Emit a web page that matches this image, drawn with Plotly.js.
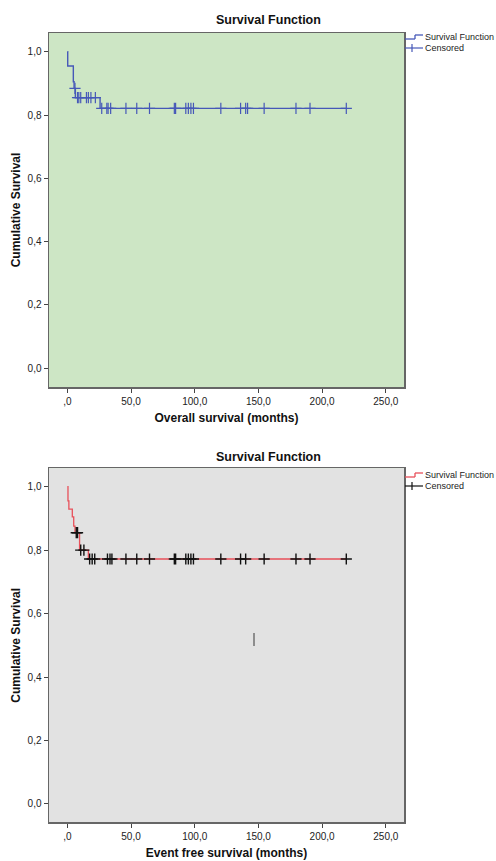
<!DOCTYPE html>
<html><head><meta charset="utf-8">
<script src="https://cdn.plot.ly/plotly-3.0.1.min.js"></script>
<style>html,body{margin:0;padding:0;background:#fff}#c{width:496px;height:861px}</style>
</head><body><div id="c"></div>
<script>
// Overall survival (top)
const osStepTime = [0, 0.3, 4.7, 5.3, 6.3, 25.7, 219];
const osStepSurv = [1.0, 0.955, 0.905, 0.884, 0.855, 0.821, 0.821];
const osCensTime = [6, 8, 9, 10.5, 15, 16.5, 18.5, 22,
  27, 31, 32, 34, 46, 54.5, 64.5, 84, 85, 93, 95, 97, 99, 120.5, 136, 140, 141.5, 154.5, 179.5, 190.5, 219];
const osCensSurv = [0.884, 0.855, 0.855, 0.855, 0.855, 0.855, 0.855, 0.855,
  0.821, 0.821, 0.821, 0.821, 0.821, 0.821, 0.821, 0.821, 0.821, 0.821, 0.821, 0.821, 0.821, 0.821, 0.821, 0.821, 0.821, 0.821, 0.821, 0.821, 0.821];

// Event free survival (bottom)
const efsStepTime = [0, 0.5, 1.2, 3.9, 5.0, 6.0, 9.6, 16.5, 219];
const efsStepSurv = [1.0, 0.955, 0.929, 0.905, 0.876, 0.855, 0.80, 0.772, 0.772];
const efsCensTime = [7, 8, 10.5, 13,
  17.5, 19.5, 21.5, 31.5, 33.5, 35, 46, 54.5, 64.5, 84, 85, 93, 95, 97, 99, 120.5, 136, 140, 154.5, 179.5, 190.5, 219];
const efsCensSurv = [0.855, 0.855, 0.80, 0.80,
  0.772, 0.772, 0.772, 0.772, 0.772, 0.772, 0.772, 0.772, 0.772, 0.772, 0.772, 0.772, 0.772, 0.772, 0.772, 0.772, 0.772, 0.772, 0.772, 0.772, 0.772, 0.772];

const xTickVals = [0, 50, 100, 150, 200, 250];
const xTickText = [',0', '50,0', '100,0', '150,0', '200,0', '250,0'];
const yTickVals = [0, 0.2, 0.4, 0.6, 0.8, 1.0];
const yTickText = ['0,0', '0,2', '0,4', '0,6', '0,8', '1,0'];

const chartTitle = 'Survival Function';
const yTitle = 'Cumulative Survival';
const xTitleTop = 'Overall survival (months)';
const xTitleBottom = 'Event free survival (months)';
const legendNames = ['Survival Function', 'Censored'];

const FONT = 'Arial, "Liberation Sans", sans-serif';
const blue = '#4658b8';
const red = '#e8505a';

const traces = [
  {x: osStepTime, y: osStepSurv, mode: 'lines', line: {shape: 'hv', color: blue, width: 1.4},
   name: legendNames[0], xaxis: 'x', yaxis: 'y'},
  {x: osCensTime, y: osCensSurv, mode: 'markers', marker: {symbol: 'cross-thin', size: 8, line: {color: blue, width: 1.2}},
   name: legendNames[1], xaxis: 'x', yaxis: 'y'},
  {x: efsStepTime, y: efsStepSurv, mode: 'lines', line: {shape: 'hv', color: red, width: 1.3},
   name: legendNames[0], xaxis: 'x2', yaxis: 'y2'},
  {x: efsCensTime, y: efsCensSurv, mode: 'markers', marker: {symbol: 'cross-thin', size: 8, line: {color: '#111', width: 1.4}},
   name: legendNames[1], xaxis: 'x2', yaxis: 'y2'}
];

const axBase = {
  showgrid: false, zeroline: false, showline: true, mirror: true,
  linecolor: '#666', linewidth: 1.5, ticks: 'outside', ticklen: 4, tickwidth: 1, tickcolor: '#444',
  tickfont: {family: FONT, size: 10, color: '#222'}, fixedrange: true
};
const titleFont = {family: FONT, size: 12, color: '#111', weight: 'bold'};

const W = 496, H = 861;
const px = v => v / W, py = v => 1 - v / H;
const xDom = [px(49), px(404)];
const y1Dom = [py(387), py(33)];
const y2Dom = [py(822.3), py(468.3)];

// manual legend glyphs (paper coords)
function legendShapes(top, stepColor, crossColor) {
  return [
    {type: 'line', xref: 'paper', yref: 'paper', x0: px(405), x1: px(415), y0: py(top + 4), y1: py(top + 4), line: {color: stepColor, width: 1.3}},
    {type: 'line', xref: 'paper', yref: 'paper', x0: px(415), x1: px(415), y0: py(top + 4), y1: py(top), line: {color: stepColor, width: 1.3}},
    {type: 'line', xref: 'paper', yref: 'paper', x0: px(415), x1: px(423), y0: py(top), y1: py(top), line: {color: stepColor, width: 1.3}},
    {type: 'line', xref: 'paper', yref: 'paper', x0: px(405), x1: px(423), y0: py(top + 13), y1: py(top + 13), line: {color: crossColor, width: 1.2}},
    {type: 'line', xref: 'paper', yref: 'paper', x0: px(412), x1: px(412), y0: py(top + 9), y1: py(top + 17), line: {color: crossColor, width: 1.2}}
  ];
}
function legendText(top) {
  return [
    {text: legendNames[0], xref: 'paper', yref: 'paper', x: px(423), y: py(top + 2), xanchor: 'left', yanchor: 'middle',
     showarrow: false, font: {family: FONT, size: 9, color: '#222'}},
    {text: legendNames[1], xref: 'paper', yref: 'paper', x: px(423), y: py(top + 13), xanchor: 'left', yanchor: 'middle',
     showarrow: false, font: {family: FONT, size: 9, color: '#222'}}
  ];
}

const layout = {
  width: W, height: H, margin: {l: 0, r: 0, t: 0, b: 0},
  paper_bgcolor: '#fff', showlegend: false,
  xaxis: Object.assign({}, axBase, {domain: xDom, range: [-14.4, 264.3], tickvals: xTickVals, ticktext: xTickText, anchor: 'y',
    title: {text: xTitleTop, font: titleFont, standoff: 8}}),
  yaxis: Object.assign({}, axBase, {domain: y1Dom, range: [-0.059, 1.059], tickvals: yTickVals, ticktext: yTickText, anchor: 'x',
    title: {text: yTitle, font: titleFont, standoff: 4}}),
  xaxis2: Object.assign({}, axBase, {domain: xDom, range: [-14.4, 264.3], tickvals: xTickVals, ticktext: xTickText, anchor: 'y2',
    title: {text: xTitleBottom, font: titleFont, standoff: 8}}),
  yaxis2: Object.assign({}, axBase, {domain: y2Dom, range: [-0.058, 1.058], tickvals: yTickVals, ticktext: yTickText, anchor: 'x2',
    title: {text: yTitle, font: titleFont, standoff: 4}}),
  plot_bgcolor: '#cde6c5',
  shapes: [
    {type: 'rect', xref: 'x2 domain', yref: 'y2 domain', x0: 0, x1: 1, y0: 0, y1: 1,
     fillcolor: '#e2e2e2', line: {width: 0}, layer: 'below'},
    {type: 'line', xref: 'paper', yref: 'paper', x0: px(254), x1: px(254), y0: py(633), y1: py(646), line: {color: '#555', width: 1.2}}
  ].concat(legendShapes(35, blue, blue), legendShapes(473, red, '#111')),
  annotations: [
    {text: '<b>' + chartTitle + '</b>', xref: 'paper', yref: 'paper', x: px(268), y: py(20),
     showarrow: false, font: {family: FONT, size: 12.5, color: '#111'}, xanchor: 'center', yanchor: 'middle'},
    {text: '<b>' + chartTitle + '</b>', xref: 'paper', yref: 'paper', x: px(268), y: py(457),
     showarrow: false, font: {family: FONT, size: 12.5, color: '#111'}, xanchor: 'center', yanchor: 'middle'}
  ].concat(legendText(35), legendText(473))
};

Plotly.newPlot('c', traces, layout, {staticPlot: true, displayModeBar: false});
</script></body></html>
